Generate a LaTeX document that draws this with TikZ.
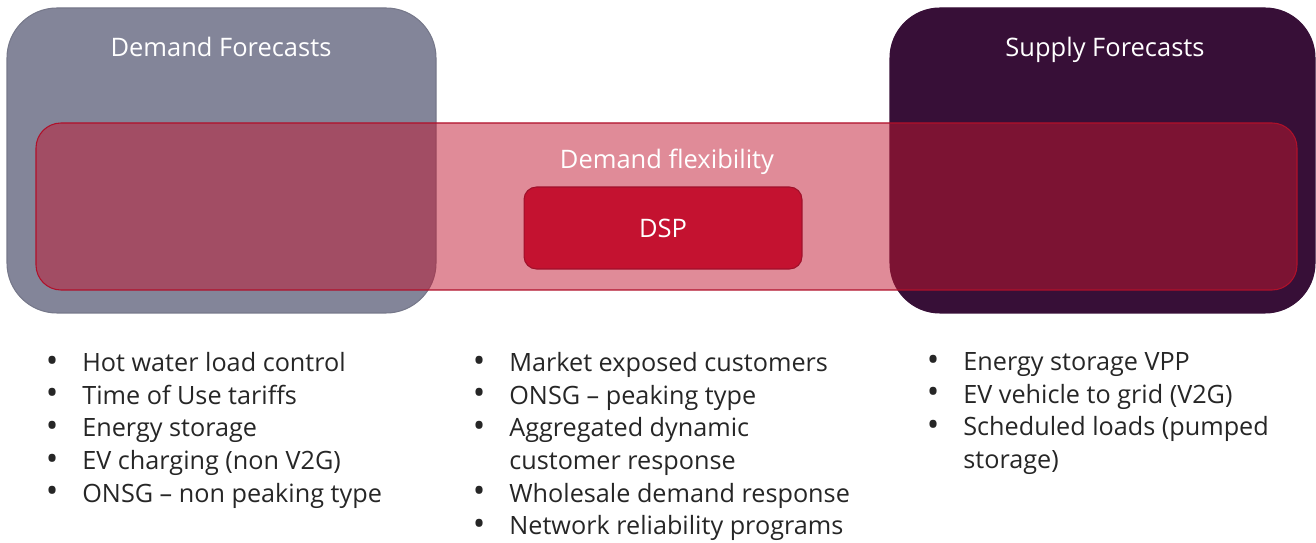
\documentclass[tikz,border=0pt]{standalone}
\usepackage{fontspec}
\setmainfont{Open Sans}
\definecolor{demandgrey}{HTML}{838599}
\definecolor{supplyplum}{HTML}{370F37}
\definecolor{flexred}{HTML}{C11731}
\definecolor{flexline}{HTML}{B0102A}
\definecolor{dspred}{HTML}{C41230}
\definecolor{dspline}{HTML}{A0102A}
\definecolor{bodygrey}{HTML}{262626}
\newcommand{\itm}{\llap{\raisebox{-0.4pt}{\fontsize{19}{19}\selectfont\textbullet}\hspace{0.48cm}}}
\begin{document}
\begin{tikzpicture}[x=0.02cm, y=-0.02cm,
  forecastbox/.style={rounded corners=1cm, line width=0.6pt},
  headlabel/.style={text=white, font=\fontsize{14.5}{17}\selectfont, inner sep=0pt, anchor=base},
  listcol/.style={anchor=north west, align=left, inner sep=0pt, text=bodygrey,
    font=\fontsize{14.35}{18.6}\selectfont}]
  \useasboundingbox (0,0) rectangle (1316,543);
  % the two forecast boxes
  \draw[forecastbox, fill=demandgrey, draw=demandgrey!90!black] (7,8) rectangle (436,313);
  \draw[forecastbox, fill=supplyplum, draw=supplyplum] (890,8) rectangle (1315,313);
  \node[headlabel] (demand) at (221,57) {Demand Forecasts};
  \node[headlabel] (supply) at (1105,57) {Supply Forecasts};
  % demand flexibility band, see-through
  \draw[rounded corners=0.5cm, fill=flexred, fill opacity=0.5, draw=flexline, line width=0.6pt]
    (36,123) rectangle (1297,290);
  \node[headlabel] (flex) at (667,169) {Demand flexibility};
  \node[draw=dspline, fill=dspred, rounded corners=0.25cm, line width=0.6pt,
    minimum width=5.56cm, minimum height=1.64cm, text=white,
    font=\fontsize{14.5}{17}\selectfont] (dsp) at (663,228) {DSP};
  % lists under the boxes
  \node[listcol] (demandlist) at (82,352) {\itm Hot water load control\\
    \itm Time of Use tariffs\\ \itm Energy storage\\
    \itm EV charging (non V2G)\\ \itm ONSG -- non peaking type};
  \node[listcol] (flexlist) at (509,352) {\itm Market exposed customers\\
    \itm ONSG -- peaking type\\ \itm Aggregated dynamic\\ customer response\\
    \itm Wholesale demand response\\ \itm Network reliability programs};
  \node[listcol] (supplylist) at (963,352) {\itm Energy storage VPP\\
    \itm EV vehicle to grid (V2G)\\ \itm Scheduled loads (pumped\\ storage)};
\end{tikzpicture}
\end{document}
